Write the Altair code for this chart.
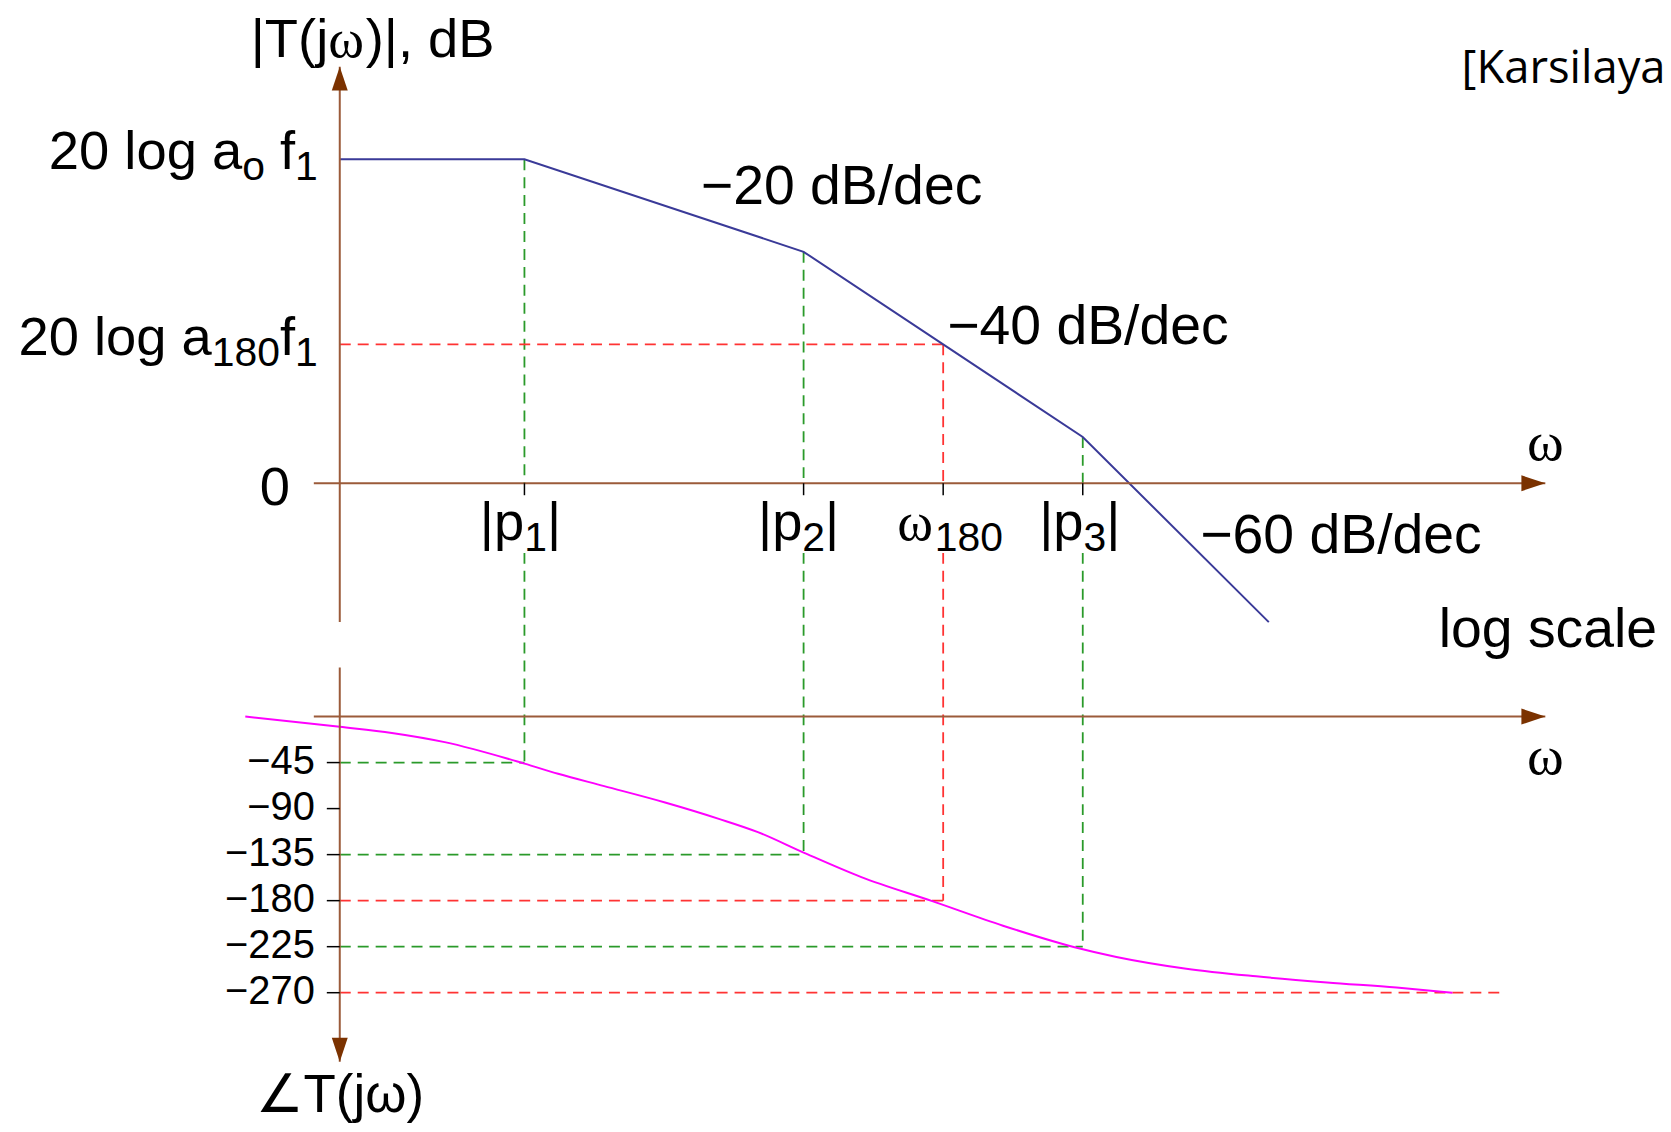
import altair as alt
import pandas as pd

# ------------------------------------------------------------------ data
P1, P2, W180, P3 = 1e3, 1e4, 31623, 1e5          # |p1|, |p2|, w180, |p3|  (rad/s)
W_AXIS = 218                                      # omega at the vertical axis
W_LEFT = 176                                      # left end of the omega axes
W_TIP = 4.54e6                                    # arrow tip of the omega axes

# asymptotic magnitude (dB) at its break points
mag_w = [218, 1000, 10000, 31623, 100000, 464000]
mag_db = [70, 70, 50, 30, 10, -30]

# phase curve (degrees)
ph_w = [100, 218, 335, 518, 1000, 1320, 1930, 3190, 4970, 6860, 10000,
        16100, 28900, 51800, 93500, 132000, 235000, 418000, 750000,
        1330000, 2110000]
ph_deg = [0, -10, -16, -25, -46, -56, -68, -84, -100, -113, -133,
          -157, -180.5, -204.5, -225.5, -235, -246.5, -254, -260, -265, -270]

phase_ticks = [-45, -90, -135, -180, -225, -270]

# guide lines
v_w = [P1, P2, W180, P3]
v_top_db = [70, 50, 30, 10]
v_bot_deg = [-45, -135, -180, -225]
v_kind = ["green", "green", "red", "green"]
h_deg = [-45, -135, -180, -225, -270]
h_end_w = [P1, P2, W180, P3, 3.13e6]
h_kind = ["green", "green", "red", "green", "red"]
LABEL_BOTTOM_DEG = 160        # lower guide segments start below the omega labels

# ------------------------------------------------------------------ layout
W, H = 1660, 1116
PX_DEC = 280.0                # pixels per decade
X0_LOG = 3 - 518 / PX_DEC     # log10(omega) at the left edge of the plot
XDOM = [10 ** X0_LOG, 10 ** (X0_LOG + W / PX_DEC)]
PX_DB = 4.643
MAGDOM = [(475 - H) / PX_DB, 475 / PX_DB]
PX_DEG = 1.0259
PHDOM = [-(H - 709) / PX_DEG, 709 / PX_DEG]

AXIS_C = "#9B5B3A"
ARROW_C = "#7B3200"
GREEN = "#2A9A2A"
RED = "#FF3333"
MAG_C = "#3A3A98"
PH_C = "#FF00FF"
SANS = "Liberation Sans"
SERIF = "Liberation Serif"
MAIN = 54.5
SUB = 41
SUB_DROP = 11

UP = "M0,0 L0.667,2 L-0.667,2 Z"
DOWN = "M0,0 L0.667,-2 L-0.667,-2 Z"
RIGHT = "M0,0 L-2,0.667 L-2,-0.667 Z"
TICK_DOWN = "M0,0 L0,2"
TICK_LEFT = "M0,0 L-2,0"

# Arial / Liberation Sans advance widths (em) for rich labels
AW = {"0": .556, "1": .556, "2": .556, "3": .556, "8": .556, " ": .278, "l": .222,
      "o": .556, "g": .556, "a": .556, "f": .278, "p": .556, "|": .26, "T": .611,
      "(": .333, ")": .333, "j": .222, ",": .278, "d": .556, "B": .667, "ω": .69}


def X(f="w"):
    return alt.X(f"{f}:Q", scale=alt.Scale(type="log", domain=XDOM, nice=False), axis=None)


def YM(f="db"):
    return alt.Y(f"{f}:Q", scale=alt.Scale(domain=MAGDOM, nice=False, zero=False), axis=None)


def YP(f="deg"):
    return alt.Y(f"{f}:Q", scale=alt.Scale(domain=PHDOM, nice=False, zero=False), axis=None)


COLOR = alt.Color("kind:N", scale=alt.Scale(domain=["green", "red"], range=[GREEN, RED]), legend=None)
DASH = dict(strokeDash=[11, 7], strokeWidth=1.8)


def text_m(w, db, txt, **kw):
    df = pd.DataFrame({"w": [w], "db": [db], "t": [txt]})
    return alt.Chart(df).mark_text(**kw).encode(x=X(), y=YM(), text="t:N")


def text_p(w, deg, txt, **kw):
    df = pd.DataFrame({"w": [w], "deg": [deg], "t": [txt]})
    return alt.Chart(df).mark_text(**kw).encode(x=X(), y=YP(), text="t:N")


def rich_m(w, db, runs, align, dx, dy):
    """Label made of runs: (text, style) with style main / sub / om (serif omega)."""
    size = {"main": MAIN, "sub": SUB, "om": MAIN}
    widths = [sum(AW.get(c, .556) for c in t) * size[s] for t, s in runs]
    total = sum(widths)
    off = dx - total if align == "right" else (dx - total / 2 if align == "center" else dx)
    out = []
    for (t, s), wd in zip(runs, widths):
        lead = len(t) - len(t.lstrip(" "))
        out.append(text_m(w, db, t.strip(), font=SERIF if s == "om" else SANS,
                          fontSize=size[s], align="left", baseline="alphabetic",
                          dx=off + lead * AW[" "] * size[s],
                          dy=dy + (SUB_DROP if s == "sub" else 0)))
        off += wd
    return out


# ------------------------------------------------------------------ magnitude group
vA = pd.DataFrame({"w": v_w, "db": v_top_db, "db2": [0] * 4, "kind": v_kind})
mag_vdash = alt.Chart(vA).mark_rule(**DASH).encode(x=X(), y=YM(), y2="db2:Q", color=COLOR)
hA = pd.DataFrame({"w": [W_AXIS], "w2": [W180], "db": [30], "kind": ["red"]})
mag_hdash = alt.Chart(hA).mark_rule(**DASH).encode(x=X(), x2="w2:Q", y=YM(), color=COLOR)

mag_line = alt.Chart(pd.DataFrame({"w": mag_w, "db": mag_db})).mark_line(
    color=MAG_C, strokeWidth=2).encode(x=X(), y=YM())

mag_vaxis = alt.Chart(pd.DataFrame({"w": [W_AXIS], "db": [-30], "db2": [90]})).mark_rule(
    color=AXIS_C, strokeWidth=2).encode(x=X(), y=YM(), y2="db2:Q")
mag_haxis = alt.Chart(pd.DataFrame({"w": [W_LEFT], "w2": [W_TIP], "db": [0]})).mark_rule(
    color=AXIS_C, strokeWidth=2).encode(x=X(), x2="w2:Q", y=YM())
mag_arrow_up = alt.Chart(pd.DataFrame({"w": [W_AXIS], "db": [90]})).mark_point(
    shape=UP, size=576, filled=True, color=ARROW_C, opacity=1).encode(x=X(), y=YM())
mag_arrow_r = alt.Chart(pd.DataFrame({"w": [W_TIP], "db": [0]})).mark_point(
    shape=RIGHT, size=576, filled=True, color=ARROW_C, opacity=1).encode(x=X(), y=YM())
mag_ticks = alt.Chart(pd.DataFrame({"w": v_w, "db": [0] * 4})).mark_point(
    shape=TICK_DOWN, size=144, filled=False, color="black", strokeWidth=1.5, opacity=1
).encode(x=X(), y=YM())

mag_texts = (
    rich_m(W_AXIS, 90, [("|T(j", "main"), ("ω", "om"), (")|, dB", "main")], "center", 33, -10)
    + rich_m(W_AXIS, 70, [("20 log a", "main"), ("o", "sub"), (" f", "main"), ("1", "sub")],
             "right", -22, 10)
    + rich_m(W_AXIS, 30, [("20 log a", "main"), ("180", "sub"), ("f", "main"), ("1", "sub")],
             "right", -22, 11)
    + rich_m(P1, 0, [("|p", "main"), ("1", "sub"), ("|", "main")], "center", -4, 57)
    + rich_m(P2, 0, [("|p", "main"), ("2", "sub"), ("|", "main")], "center", -5, 57)
    + rich_m(W180, 0, [("ω", "om"), ("180", "sub")], "center", 7, 57)
    + rich_m(P3, 0, [("|p", "main"), ("3", "sub"), ("|", "main")], "center", -3, 57)
    + [
        text_m(W_AXIS, 0, "0", font=SANS, fontSize=MAIN, align="right",
               baseline="alphabetic", dx=-50, dy=22),
        text_m(4285, 60.3, "−20 dB/dec", font=SANS, fontSize=55.5, align="left", baseline="alphabetic"),
        text_m(W180, 30, "−40 dB/dec", font=SANS, fontSize=55.5, align="left", baseline="alphabetic", dx=4),
        text_m(263600, -15.1, "−60 dB/dec", font=SANS, fontSize=55.5, align="left", baseline="alphabetic"),
        text_m(1.884e6, -35.3, "log scale", font=SANS, fontSize=55.5, align="left", baseline="alphabetic"),
        text_m(W_TIP, 0, "ω", font=SERIF, fontSize=56, align="center", baseline="alphabetic", dy=-23),
        text_m(2.275e6, 86.4, "[Karsilayan]", font="Open Sans", fontSize=45.5, align="left",
               baseline="alphabetic"),
    ]
)

mag_group = alt.layer(mag_vdash, mag_hdash, mag_line, mag_vaxis, mag_haxis,
                      mag_arrow_up, mag_arrow_r, mag_ticks, *mag_texts)

# ------------------------------------------------------------------ phase group
vB = pd.DataFrame({"w": v_w, "deg": [LABEL_BOTTOM_DEG] * 4, "deg2": v_bot_deg, "kind": v_kind})
ph_vdash = alt.Chart(vB).mark_rule(**DASH).encode(x=X(), y=YP(), y2="deg2:Q", color=COLOR)
hB = pd.DataFrame({"w": [W_AXIS] * 5, "w2": h_end_w, "deg": h_deg, "kind": h_kind})
ph_hdash = alt.Chart(hB).mark_rule(**DASH).encode(x=X(), x2="w2:Q", y=YP(), color=COLOR)

ph_line = alt.Chart(pd.DataFrame({"w": ph_w, "deg": ph_deg})).mark_line(
    color=PH_C, strokeWidth=2, interpolate="monotone").encode(x=X(), y=YP())

ph_vaxis = alt.Chart(pd.DataFrame({"w": [W_AXIS], "deg": [48], "deg2": [-337.5]})).mark_rule(
    color=AXIS_C, strokeWidth=2).encode(x=X(), y=YP(), y2="deg2:Q")
ph_haxis = alt.Chart(pd.DataFrame({"w": [W_LEFT], "w2": [W_TIP], "deg": [0]})).mark_rule(
    color=AXIS_C, strokeWidth=2).encode(x=X(), x2="w2:Q", y=YP())
ph_arrow_dn = alt.Chart(pd.DataFrame({"w": [W_AXIS], "deg": [-337.5]})).mark_point(
    shape=DOWN, size=576, filled=True, color=ARROW_C, opacity=1).encode(x=X(), y=YP())
ph_arrow_r = alt.Chart(pd.DataFrame({"w": [W_TIP], "deg": [0]})).mark_point(
    shape=RIGHT, size=576, filled=True, color=ARROW_C, opacity=1).encode(x=X(), y=YP())
ph_ticks = alt.Chart(pd.DataFrame({"w": [W_AXIS] * len(phase_ticks), "deg": phase_ticks})).mark_point(
    shape=TICK_LEFT, size=169, filled=False, color="black", strokeWidth=1.5, opacity=1
).encode(x=X(), y=YP())
tick_df = pd.DataFrame({"w": [W_AXIS] * len(phase_ticks), "deg": phase_ticks,
                        "t": [str(v).replace("-", "−") for v in phase_ticks]})
ph_ticklabels = alt.Chart(tick_df).mark_text(
    font=SANS, fontSize=40, align="right", baseline="alphabetic", dx=-25, dy=11
).encode(x=X(), y=YP(), text="t:N")

ph_texts = [
    text_p(W_TIP, 0, "ω", font=SERIF, fontSize=56, align="center", baseline="alphabetic", dy=58),
    text_p(W_AXIS, -337.5, "∠T(jω)", font=SANS, fontSize=53, align="center",
           baseline="alphabetic", dy=50),
]

ph_group = alt.layer(ph_vdash, ph_hdash, ph_line, ph_vaxis, ph_haxis,
                     ph_arrow_dn, ph_arrow_r, ph_ticks, ph_ticklabels, *ph_texts)

chart = alt.layer(mag_group, ph_group).resolve_scale(y="independent").properties(
    width=W, height=H, padding=0, autosize=alt.AutoSizeParams(type="none")
).configure_view(stroke=None)

chart.save("out.html", embed_options={"renderer": "svg", "actions": False})
